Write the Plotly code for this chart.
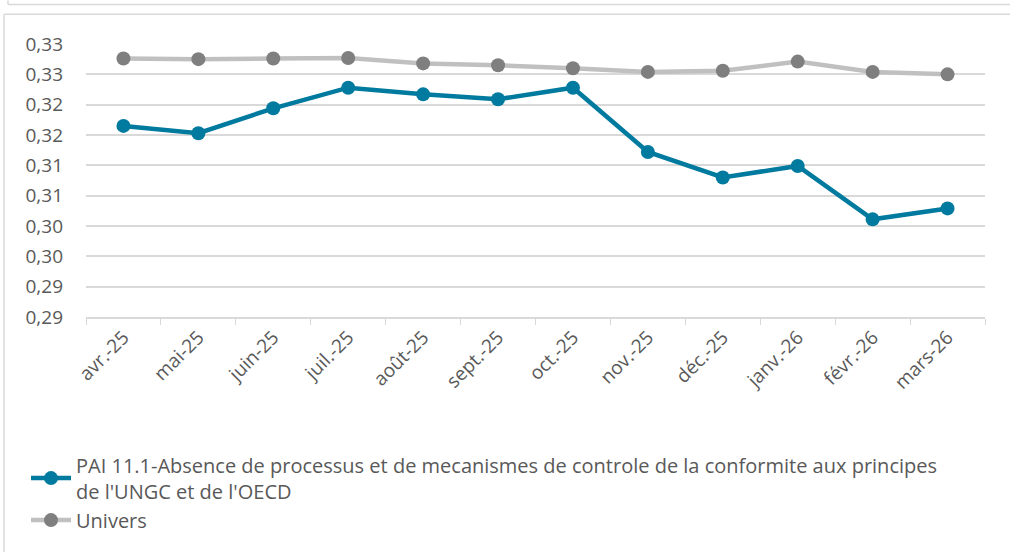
import plotly.graph_objects as go

categories = ["avr.-25", "mai-25", "juin-25", "juil.-25", "août-25", "sept.-25",
              "oct.-25", "nov.-25", "déc.-25", "janv.-26", "févr.-26", "mars-26"]
pai_values = [0.3165, 0.3153, 0.3194, 0.3228, 0.3217, 0.3209,
              0.3228, 0.3122, 0.3080, 0.3099, 0.3011, 0.3029]
univers_values = [0.3276, 0.3275, 0.3276, 0.3277, 0.3268, 0.3265,
                  0.3260, 0.3254, 0.3256, 0.3271, 0.3254, 0.3250]
y_tick_values = [0.285, 0.290, 0.295, 0.300, 0.305, 0.310, 0.315, 0.320, 0.325, 0.330]
y_tick_labels = ["0,29", "0,29", "0,30", "0,30", "0,31", "0,31", "0,32", "0,32", "0,33", "0,33"]

pai_name = ("PAI 11.1-Absence de processus et de mecanismes de controle de la conformite aux principes"
            "<br>de l'UNGC et de l'OECD")
univers_name = "Univers"

FONT = "Open Sans"
TXT = "#595959"

W, H = 1010, 552
pl, pr, pt, pb = 86, 985, 44, 320

fig = go.Figure()
fig.add_trace(go.Scatter(
    x=categories, y=pai_values, name=pai_name, mode="lines+markers",
    line=dict(color="#007A9E", width=4.5),
    marker=dict(color="#007A9E", size=14),
))
fig.add_trace(go.Scatter(
    x=categories, y=univers_values, name=univers_name, mode="lines+markers",
    line=dict(color="#BFC0BF", width=4.5),
    marker=dict(color="#7F7F7F", size=14),
))

def px(x):
    return (x - pl) / (pr - pl)
def py(y):
    return (pb - y) / (pb - pt)

fig.update_layout(
    width=W, height=H,
    margin=dict(l=pl, r=W - pr, t=pt, b=H - pb),
    paper_bgcolor="white", plot_bgcolor="white",
    font=dict(family=FONT, size=17, color=TXT),
    showlegend=True,
    legend=dict(
        orientation="v", x=px(26), xanchor="left", y=py(450), yanchor="top",
        font=dict(family=FONT, size=20, color=TXT),
        tracegroupgap=0, itemwidth=40, bgcolor="rgba(0,0,0,0)",
    ),
    xaxis=dict(
        type="category", showgrid=False, showline=True, linecolor="#D9D9D9", linewidth=1.5,
        ticks="outside", ticklen=6, tickcolor="#D9D9D9", tickson="boundaries",
        tickangle=-45, tickfont=dict(family=FONT, size=19, color=TXT),
        range=[-0.5, 11.5], zeroline=False,
    ),
    yaxis=dict(
        range=[0.285, 0.330], tickvals=y_tick_values, ticktext=y_tick_labels,
        showgrid=True, gridcolor="#D9D9D9", gridwidth=1.5, zeroline=False,
        showline=False, ticks="", ticklabelstandoff=22,
        tickfont=dict(family=FONT, size=19, color=TXT),
    ),
)

border = dict(color="#D9D9D9", width=1.5)
fig.add_shape(type="line", xref="paper", yref="paper", x0=px(8), x1=px(1012), y0=py(4), y1=py(4), line=border)
fig.add_shape(type="line", xref="paper", yref="paper", x0=px(8), x1=px(8), y0=py(0), y1=py(4), line=border)
fig.add_shape(type="line", xref="paper", yref="paper", x0=px(4), x1=px(1012), y0=py(14), y1=py(14), line=border)
fig.add_shape(type="line", xref="paper", yref="paper", x0=px(4), x1=px(4), y0=py(14), y1=py(560), line=border)

fig.write_html(
    "out.html",
    config={"displayModeBar": False},
    post_script="document.body.style.margin='0';document.body.style.padding='0';document.body.style.overflow='hidden';",
)
